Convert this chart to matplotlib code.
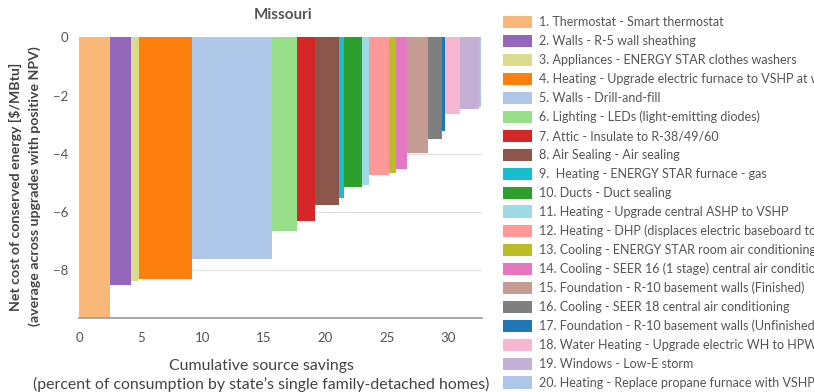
import numpy as np
import matplotlib
matplotlib.use("Agg")
import matplotlib.pyplot as plt
from matplotlib.patches import Patch

plt.rcParams['font.family'] = ['Lato', 'DejaVu Sans']

# upgrade measures, ordered by net cost of conserved energy
measures = [
    "1. Thermostat - Smart thermostat",
    "2. Walls - R-5 wall sheathing",
    "3. Appliances - ENERGY STAR clothes washers",
    "4. Heating - Upgrade electric furnace to VSHP at wear-out",
    "5. Walls - Drill-and-fill",
    "6. Lighting - LEDs (light-emitting diodes)",
    "7. Attic - Insulate to R-38/49/60",
    "8. Air Sealing - Air sealing",
    "9.  Heating - ENERGY STAR furnace - gas",
    "10. Ducts - Duct sealing",
    "11. Heating - Upgrade central ASHP to VSHP",
    "12. Heating - DHP (displaces electric baseboard today)",
    "13. Cooling - ENERGY STAR room air conditioning (RAC)",
    "14. Cooling - SEER 16 (1 stage) central air conditioning",
    "15. Foundation - R-10 basement walls (Finished)",
    "16. Cooling - SEER 18 central air conditioning",
    "17. Foundation - R-10 basement walls (Unfinished)",
    "18. Water Heating - Upgrade electric WH to HPWH",
    "19. Windows - Low-E storm",
    "20. Heating - Replace propane furnace with VSHP",
]
# source savings of each measure (% of consumption)
savings = [2.5, 1.7, 0.68, 4.3, 6.5, 2.0, 1.46, 2.0, 0.41, 1.46,
           0.54, 1.63, 0.54, 0.89, 1.73, 1.16, 0.22, 1.22, 1.54, 0.22]
# net cost of conserved energy ($/MBtu)
cost = [-9.8, -8.5, -8.38, -8.3, -7.62, -6.65, -6.31, -5.77, -5.53, -5.13,
        -5.07, -4.74, -4.65, -4.51, -3.99, -3.5, -3.22, -2.65, -2.46, -2.41]
colors = ["#f9b877", "#9467bd", "#dbdb8d", "#ff7f0e", "#aec7e8", "#98df8a",
          "#d62728", "#8c564b", "#17becf", "#2ca02c", "#9edae5", "#ff9896",
          "#bcbd22", "#e377c2", "#c49c94", "#7f7f7f", "#1f77b4", "#f7b6d2",
          "#c5b0d5", "#aec7e8"]

yticks = [0, -2, -4, -6, -8]
xticks = [0, 5, 10, 15, 20, 25, 30]

W, H = 814, 392
fig = plt.figure(figsize=(W / 100, H / 100), dpi=100)
ax = fig.add_axes([79.3 / W, 1 - 317.7 / H, 402.7 / W, 280.4 / H])

left = np.concatenate([[0], np.cumsum(savings)[:-1]])
ax.bar(left, cost, width=savings, align='edge', color=colors, linewidth=0, zorder=2)

ax.set_xlim(0, 32.75)
ax.set_ylim(-9.63, 0)
ax.set_yticks(yticks)
ax.set_xticks(xticks)
ax.grid(axis='y', color='#e2e2e2', linewidth=0.9, zorder=0)
ax.set_axisbelow(True)
for s in ['top', 'right', 'left']:
    ax.spines[s].set_visible(False)
ax.spines['bottom'].set_color('#9a9a9a')
ax.spines['bottom'].set_linewidth(1.2)
ax.tick_params(length=0, labelsize=9.5, labelcolor='#555555')
ax.tick_params(axis='y', pad=8)
ax.tick_params(axis='x', pad=10)

fig.text(283 / W, 1 - 15 / H, "Missouri", ha='center', va='center',
         fontsize=11, fontweight='bold', color='#555555')

fig.text(261 / W, 1 - 366 / H, "Cumulative source savings", ha='center', va='center',
         fontsize=11.4, color='#444444')
fig.text(261 / W, 1 - 384 / H,
         "(percent of consumption by state\u2019s single family-detached homes)",
         ha='center', va='center', fontsize=11.4, color='#444444')

fig.text(15 / W, 1 - 187 / H, "Net cost of conserved energy [$/MBtu]",
         rotation=90, ha='center', va='center', fontsize=10.2,
         fontweight='bold', color='#444444')
fig.text(35 / W, 1 - 186 / H, "(average across upgrades with positive NPV)",
         rotation=90, ha='center', va='center', fontsize=10.2,
         fontweight='bold', color='#444444')

handles = [Patch(facecolor=c, edgecolor='none') for c in colors]
fig.legend(handles, measures, loc='upper left', bbox_to_anchor=(503 / W, 1 - 16 / H),
           frameon=False, fontsize=9, handlelength=2.3, handleheight=1.15,
           handletextpad=0.6, labelspacing=0.52, borderpad=0, borderaxespad=0,
           labelcolor='#555555')

fig.savefig("out.png", dpi=100)
